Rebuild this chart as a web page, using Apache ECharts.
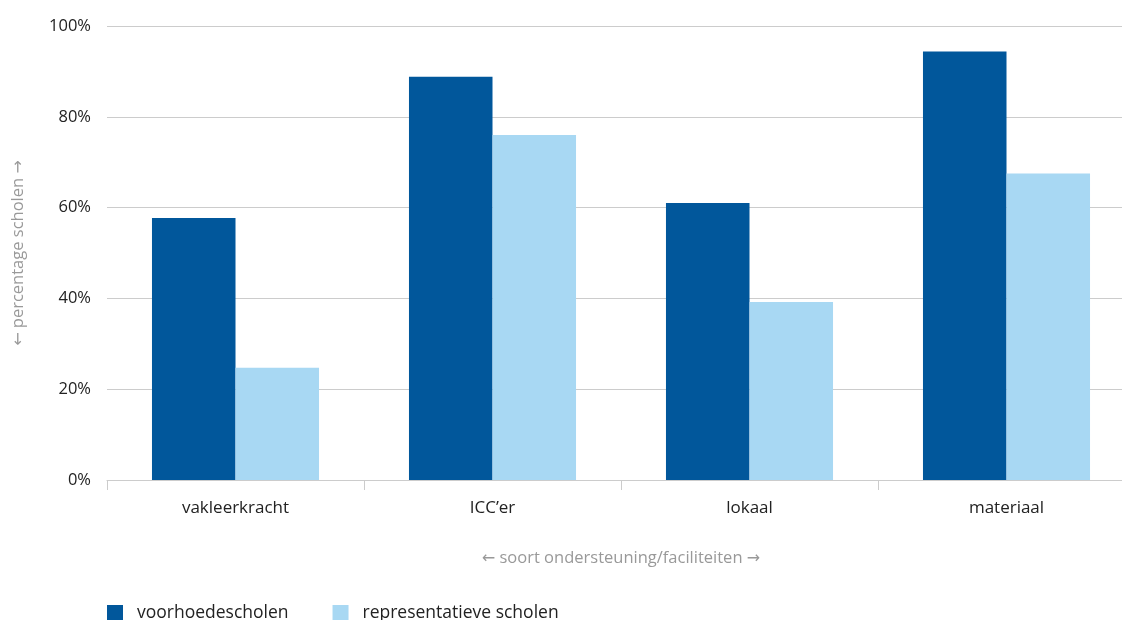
<!DOCTYPE html>
<html><head><meta charset="utf-8">
<script src="https://cdn.jsdelivr.net/npm/echarts@6/dist/echarts.min.js"></script>
<style>html,body{margin:0;padding:0;background:#fff}#c{width:1122px;height:620px}</style>
</head><body><div id="c"></div>
<script>
var categories = ['vakleerkracht', "ICC\u2019er", 'lokaal', 'materiaal'];
var seriesNames = ['voorhoedescholen', 'representatieve scholen'];
var voorhoede = [57.7, 88.8, 61.0, 94.4];
var representatief = [24.7, 76.0, 39.2, 67.5];
var yTicks = [0, 20, 40, 60, 80, 100];
var FONT = '"Open Sans", "Noto Sans", sans-serif';
var arrowRich = {a: {fontFamily: '"DejaVu Sans", sans-serif', fontSize: 16, color: '#999'}};
var chart = echarts.init(document.getElementById('c'));
chart.setOption({
  animation: false,
  textStyle: {fontFamily: FONT},
  grid: {left: 107, right: -13, top: 26, bottom: 140, containLabel: false, outerBoundsMode: 'none'},
  legend: {
    data: seriesNames, left: 107, top: 604, padding: 0, itemWidth: 16, itemHeight: 16, itemGap: 44,
    icon: 'rect', textStyle: {fontSize: 17.5, color: '#222', fontFamily: FONT, padding: [3, 0, 0, 9]}
  },
  xAxis: {
    type: 'category', data: categories,
    name: '{a|\u2190} soort ondersteuning/faciliteiten {a|\u2192}', nameLocation: 'middle', nameGap: 70,
    nameTextStyle: {color: '#999', fontSize: 16.5, fontFamily: FONT, rich: arrowRich},
    axisLine: {lineStyle: {color: '#ccc'}},
    axisTick: {show: true, length: 10, lineStyle: {color: '#ccc'}},
    axisLabel: {color: '#222', fontSize: 17, margin: 20, fontFamily: FONT}
  },
  yAxis: {
    type: 'value', min: 0, max: 100, interval: 20,
    name: '{a|\u2190} percentage scholen {a|\u2192}', nameLocation: 'middle', nameGap: 80,
    nameTextStyle: {color: '#999', fontSize: 16.5, fontFamily: FONT, rich: arrowRich},
    axisLine: {show: false}, axisTick: {show: false},
    splitLine: {lineStyle: {color: '#ccc', width: 1}},
    axisLabel: {color: '#222', fontSize: 16.5, margin: 16, fontFamily: FONT,
      formatter: function(v){ return yTicks.indexOf(v) >= 0 ? v + '%' : ''; }}
  },
  series: [
    {name: seriesNames[0], type: 'bar', data: voorhoede, barGap: '0%', barCategoryGap: '35%', itemStyle: {color: '#01579b'}},
    {name: seriesNames[1], type: 'bar', data: representatief, itemStyle: {color: '#a8d8f3'}}
  ]
});
</script></body></html>
